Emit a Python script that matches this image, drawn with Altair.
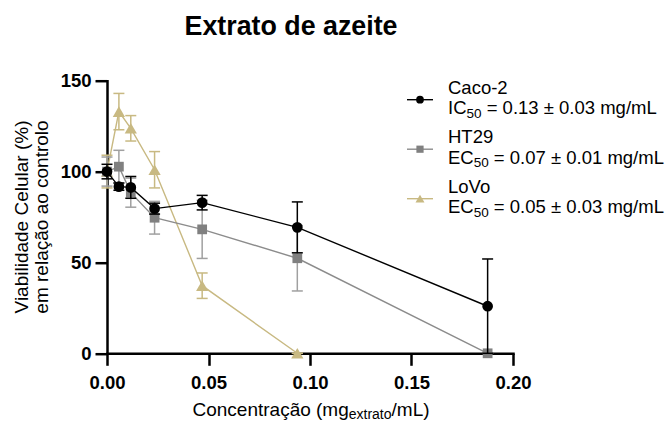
import altair as alt
import pandas as pd

# ---------------- data ----------------
conc = [0.0, 0.00586, 0.01172, 0.02344, 0.04688, 0.09375, 0.1875]
caco_mean = [100, 91.7, 91.3, 79.6, 82.9, 69.3, 25.9]
caco_sd = [4, 2, 6, 3, 4, 14, 26]
ht29_mean = [100, 102.7, 88.4, 74.6, 68.2, 52.3, 0]
ht29_sd = [8, 9, 8, 9, 16, 18, 0]
lovo_conc = [0.0, 0.00586, 0.01172, 0.02344, 0.04688, 0.09375]
lovo_mean = [100, 133, 123.8, 101, 37.2, 0]
lovo_sd = [9, 10, 7, 10, 7, 0]

series_names = ["Caco-2", "HT29", "LoVo"]
series_stat = ["IC", "EC", "EC"]
series_value = ["= 0.13 \u00b1 0.03 mg/mL", "= 0.07 \u00b1 0.01 mg/mL",
                "= 0.05 \u00b1 0.03 mg/mL"]
x_ticks = [0.0, 0.05, 0.10, 0.15, 0.20]
y_ticks = [0, 50, 100, 150]

FONT = "Liberation Sans, Arial, sans-serif"

# Arial (= Liberation Sans) advance widths, per 1000 em
AW = {'C': 722, 'o': 556, 'n': 556, 'c': 500, 'e': 556, 't': 278, 'r': 333, 'a': 556,
      '\u00e7': 500, '\u00e3': 556, ' ': 278, '(': 333, 'm': 833, 'g': 556,
      'x': 500, '/': 278, 'L': 556, ')': 333, 'I': 278, 'E': 667, '=': 584, '.': 278,
      '\u00b1': 549, '-': 333, 'H': 722, 'T': 611, 'V': 667}


def tw(s, size):
    return sum(AW.get(ch, 556) for ch in s) * size / 1000.0


def frame(xs, means, sds):
    return pd.DataFrame({
        "c": xs, "m": means,
        "lo": [max(0, m - s) for m, s in zip(means, sds)],
        "hi": [m + s for m, s in zip(means, sds)],
    })


X_SCALE = alt.Scale(domain=[0, 0.2], nice=False, zero=False, padding=0)
Y_SCALE = alt.Scale(domain=[0, 150], nice=False, padding=0)
X_AXIS = alt.Axis(values=x_ticks, format=".2f", title=None, labelPadding=8, offset=0,
                  labelFlush=False, labelOverlap=False)
Y_AXIS = alt.Axis(values=y_ticks, title=None, labelPadding=4, offset=0,
                  labelFlush=False, labelOverlap=False)


def enc_x(field):
    return alt.X(f"{field}:Q", scale=X_SCALE, axis=X_AXIS)


def enc_y(field):
    return alt.Y(f"{field}:Q", scale=Y_SCALE, axis=Y_AXIS)


def series_layers(df, line_col, mark_col, bar_col, shape, size):
    base = alt.Chart(df)
    rule = base.mark_rule(color=bar_col, strokeWidth=1.5).encode(
        x=enc_x("c"), y=enc_y("lo"), y2="hi")
    cap_lo = base.mark_rule(color=bar_col, strokeWidth=1.5, xOffset=-5.5, x2Offset=5.5).encode(
        x=enc_x("c"), x2="c", y=enc_y("lo"))
    cap_hi = base.mark_rule(color=bar_col, strokeWidth=1.5, xOffset=-5.5, x2Offset=5.5).encode(
        x=enc_x("c"), x2="c", y=enc_y("hi"))
    line = base.mark_line(color=line_col, strokeWidth=1.4).encode(x=enc_x("c"), y=enc_y("m"))
    pts = base.mark_point(shape=shape, filled=True, opacity=1, color=mark_col, size=size,
                          strokeWidth=0).encode(x=enc_x("c"), y=enc_y("m"))
    return [rule, cap_lo, cap_hi, line, pts]


OLIVE = "#c8b982"
layers = []
layers += series_layers(frame(lovo_conc, lovo_mean, lovo_sd), OLIVE, OLIVE, OLIVE, "triangle-up", 150)
layers += series_layers(frame(conc, ht29_mean, ht29_sd), "#8c8c8c", "#808080", "#a0a0a0", "square", 95)
layers += series_layers(frame(conc, caco_mean, caco_sd), "#000000", "#000000", "#000000", "circle", 115)

one = pd.DataFrame({"k": [0]})

# ---------------- title ----------------
layers.append(alt.Chart(one).mark_text(font=FONT, fontSize=26.8, fontWeight="bold", align="center",
                                       baseline="alphabetic", color="black").encode(
    x=alt.value(184), y=alt.value(-46), text=alt.value("Extrato de azeite")))

# ---------------- y title (two lines) ----------------
for i, txt in enumerate(["Viabilidade Celular (%)", "em rela\u00e7\u00e3o ao controlo"]):
    layers.append(alt.Chart(one).mark_text(font=FONT, fontSize=19, angle=270, align="center",
                                           baseline="alphabetic", color="black").encode(
        x=alt.value(-78.7 + 20 * i), y=alt.value(136.3), text=alt.value(txt)))

# ---------------- x title with subscript ----------------
MAIN, SUB = 19, 14
p1, p2, p3 = "Concentra\u00e7\u00e3o (mg", "extrato", "/mL)"
total = tw(p1, MAIN) + tw(p2, SUB) + tw(p3, MAIN)
x0 = 204 - total / 2
for txt, xx, yy, fs in [(p1, x0, 335, MAIN),
                        (p2, x0 + tw(p1, MAIN), 338.5, SUB),
                        (p3, x0 + tw(p1, MAIN) + tw(p2, SUB), 335, MAIN)]:
    layers.append(alt.Chart(one).mark_text(font=FONT, fontSize=fs, align="left",
                                           baseline="alphabetic", color="black").encode(
        x=alt.value(xx), y=alt.value(yy), text=alt.value(txt)))

# ---------------- custom legend ----------------
LMAIN, LSUB = 18.5, 13.5
leg_style = [("circle", "#000000", "#000000", 60), ("square", "#808080", "#8c8c8c", 52),
             ("triangle-up", OLIVE, OLIVE, 80)]
LX = 341
for k in range(3):
    shape, mcol, lcol, msize = leg_style[k]
    yc = 19 + 49.5 * k
    layers.append(alt.Chart(one).mark_rule(color=lcol, strokeWidth=1.4).encode(
        x=alt.value(300), x2=alt.value(326), y=alt.value(yc)))
    layers.append(alt.Chart(one).mark_point(shape=shape, filled=True, opacity=1, color=mcol,
                                            size=msize, strokeWidth=0).encode(
        x=alt.value(313), y=alt.value(yc)))
    yb1 = 13 + 49.5 * k
    yb2 = 33.4 + 49.5 * k
    layers.append(alt.Chart(one).mark_text(font=FONT, fontSize=LMAIN, align="left",
                                           baseline="alphabetic", color="black").encode(
        x=alt.value(LX), y=alt.value(yb1), text=alt.value(series_names[k])))
    stat = series_stat[k]
    xs = LX + tw(stat, LMAIN)
    layers.append(alt.Chart(one).mark_text(font=FONT, fontSize=LMAIN, align="left",
                                           baseline="alphabetic", color="black").encode(
        x=alt.value(LX), y=alt.value(yb2), text=alt.value(stat)))
    layers.append(alt.Chart(one).mark_text(font=FONT, fontSize=LSUB, align="left",
                                           baseline="alphabetic", color="black").encode(
        x=alt.value(xs), y=alt.value(yb2 + 3.6), text=alt.value("50")))
    layers.append(alt.Chart(one).mark_text(font=FONT, fontSize=LMAIN, align="left",
                                           baseline="alphabetic", color="black").encode(
        x=alt.value(xs + tw("50", LSUB) + tw(" ", LMAIN)), y=alt.value(yb2),
        text=alt.value(series_value[k])))

chart = alt.layer(*layers).properties(
    width=406, height=272.6,
    padding={"left": 107, "top": 80.7, "right": 157, "bottom": 67.7},
    autosize=alt.AutoSizeParams(type="none"),
    background="white",
).configure_view(stroke=None).configure_axis(
    domainColor="black", domainWidth=2.5, tickColor="black", tickWidth=2.5, tickSize=12,
    labelFont=FONT, labelFontSize=18.5, labelFontWeight="bold", labelColor="black",
    grid=False, domainCap="square",
)

chart.save("out.html", embed_options={"renderer": "svg", "actions": False})
